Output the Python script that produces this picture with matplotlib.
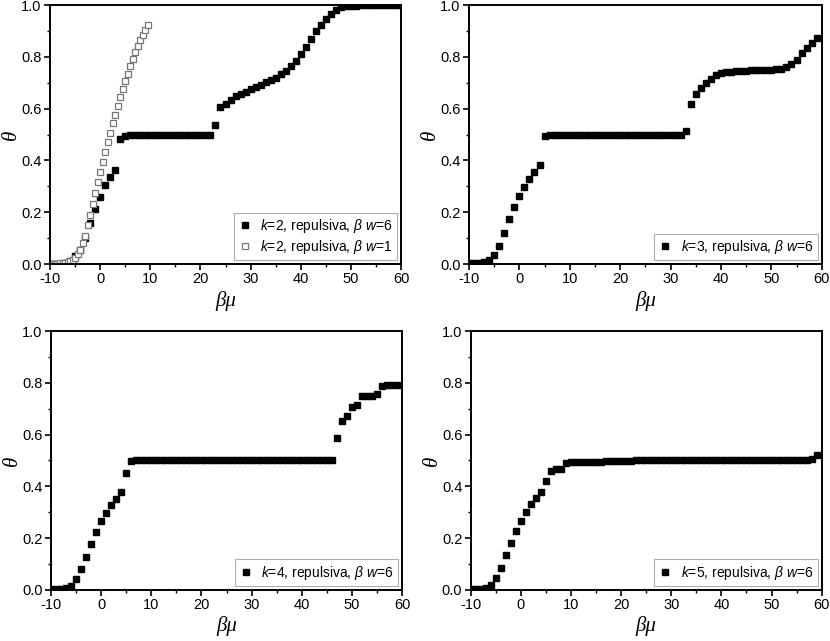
import matplotlib
matplotlib.use('Agg')
import matplotlib.pyplot as plt
import numpy as np

plt.rcParams['font.family'] = ['Liberation Sans', 'DejaVu Sans']
plt.rcParams['axes.unicode_minus'] = False
plt.rcParams['mathtext.fontset'] = 'custom'
plt.rcParams['mathtext.it'] = 'Liberation Sans:italic'
plt.rcParams['mathtext.rm'] = 'Liberation Sans'

# k=2, repulsiva, beta w = 6  (step 1, -10..60)
mu_k2 = list(range(-10, 61))
th_k2 = [0.0, 0.001, 0.002, 0.005, 0.012, 0.03, 0.055, 0.10, 0.16, 0.212,
         0.26, 0.304, 0.336, 0.364, 0.484, 0.495, 0.498, 0.499, 0.5, 0.5,
         0.5, 0.5, 0.5, 0.5, 0.5, 0.5, 0.5, 0.5, 0.5, 0.5,
         0.5, 0.5, 0.5, 0.535, 0.605, 0.618, 0.633, 0.649, 0.655, 0.664,
         0.674, 0.682, 0.691, 0.702, 0.71, 0.72, 0.734, 0.746, 0.764, 0.785,
         0.811, 0.839, 0.869, 0.898, 0.923, 0.945, 0.965, 0.98, 0.991, 0.995,
         0.997, 0.998, 0.999, 0.999, 1.0, 1.0, 1.0, 1.0, 1.0, 1.0, 1.0]

# k=2, repulsiva, beta w = 1  (step 0.5, -10..9.5)
mu_k2w1 = [x / 2 for x in range(-20, 20)]
th_k2w1 = [0.001, 0.001, 0.002, 0.002, 0.003, 0.004, 0.005, 0.008, 0.011, 0.016,
           0.024, 0.038, 0.055, 0.08, 0.11, 0.15, 0.19, 0.232, 0.275, 0.316,
           0.356, 0.395, 0.434, 0.47, 0.507, 0.543, 0.575, 0.61, 0.644, 0.676,
           0.707, 0.735, 0.765, 0.792, 0.817, 0.843, 0.865, 0.886, 0.905, 0.923]

# k=3
mu_k3 = list(range(-10, 60))
th_k3 = [0.003, 0.004, 0.005, 0.008, 0.015, 0.033, 0.07, 0.118, 0.172, 0.22,
         0.264, 0.298, 0.327, 0.356, 0.384, 0.494, 0.498, 0.5, 0.5, 0.5,
         0.5, 0.5, 0.5, 0.5, 0.5, 0.5, 0.5, 0.5, 0.5, 0.5,
         0.5, 0.5, 0.5, 0.5, 0.5, 0.5, 0.5, 0.5, 0.5, 0.5,
         0.5, 0.5, 0.5, 0.515, 0.617, 0.655, 0.681, 0.70, 0.716, 0.73,
         0.737, 0.741, 0.743, 0.745, 0.746, 0.747, 0.748, 0.749, 0.75, 0.75,
         0.75, 0.752, 0.755, 0.76, 0.772, 0.788, 0.816, 0.836, 0.854, 0.871]

# k=4
mu_k4 = list(range(-10, 60))
th_k4 = [0.002, 0.003, 0.005, 0.008, 0.017, 0.041, 0.08, 0.127, 0.179, 0.225,
         0.265, 0.298, 0.328, 0.352, 0.377, 0.45, 0.498, 0.5, 0.5, 0.5,
         0.5, 0.5, 0.5, 0.5, 0.5, 0.5, 0.5, 0.5, 0.5, 0.5,
         0.5, 0.5, 0.5, 0.5, 0.5, 0.5, 0.5, 0.5, 0.5, 0.5,
         0.5, 0.5, 0.5, 0.5, 0.5, 0.5, 0.5, 0.5, 0.5, 0.5,
         0.5, 0.5, 0.5, 0.5, 0.5, 0.5, 0.5, 0.587, 0.652, 0.673,
         0.708, 0.714, 0.75, 0.75, 0.75, 0.757, 0.788, 0.792, 0.792, 0.792]

# k=5
mu_k5 = list(range(-10, 60))
th_k5 = [0.002, 0.003, 0.005, 0.008, 0.019, 0.045, 0.084, 0.134, 0.183, 0.227,
         0.266, 0.30, 0.331, 0.354, 0.377, 0.42, 0.459, 0.467, 0.469, 0.49,
         0.493, 0.494, 0.494, 0.495, 0.495, 0.496, 0.496, 0.497, 0.497, 0.498,
         0.498, 0.499, 0.499, 0.5, 0.5, 0.5, 0.5, 0.5, 0.5, 0.5,
         0.5, 0.5, 0.5, 0.5, 0.5, 0.5, 0.5, 0.5, 0.5, 0.5,
         0.5, 0.5, 0.5, 0.5, 0.5, 0.5, 0.5, 0.5, 0.5, 0.5,
         0.5, 0.5, 0.5, 0.5, 0.5, 0.5, 0.503, 0.503, 0.505, 0.52]

fig = plt.figure(figsize=(8.3, 6.41), dpi=100)
boxes = [(0.0602, 0.5881, 0.423, 0.404), (0.565, 0.5881, 0.425, 0.404),
         (0.0614, 0.0796, 0.423, 0.404), (0.567, 0.0796, 0.423, 0.404)]
axs = [fig.add_axes(b) for b in boxes]

def label(k, w):
    return r'$k$=%d, repulsiva, $\beta$ $w$=%d' % (k, w)

axs[0].plot(mu_k2, th_k2, 's', color='black', ms=5, label=label(2, 6))
axs[0].plot(mu_k2w1, th_k2w1, 's', mfc='white', mec='#777777', mew=0.9, ms=5,
            label=label(2, 1))
axs[1].plot(mu_k3, th_k3, 's', color='black', ms=5, label=label(3, 6))
axs[2].plot(mu_k4, th_k4, 's', color='black', ms=5, label=label(4, 6))
axs[3].plot(mu_k5, th_k5, 's', color='black', ms=5, label=label(5, 6))

for ax in axs:
    ax.set_xlim(-10, 60)
    ax.set_ylim(0, 1.0)
    ax.set_xticks(np.arange(-10, 61, 10))
    ax.set_xticks(np.arange(-5, 60, 10), minor=True)
    ax.set_yticks(np.arange(0, 1.01, 0.2))
    ax.set_yticks(np.arange(0.1, 1.0, 0.2), minor=True)
    ax.set_yticklabels(['0.0', '0.2', '0.4', '0.6', '0.8', '1.0'])
    ax.tick_params(direction='out', length=4, width=1.2, labelsize=10.5, pad=2)
    ax.tick_params(which='minor', direction='out', length=2.5, width=1.0)
    for s in ax.spines.values():
        s.set_linewidth(1.4)
    ax.set_xlabel('βμ', fontsize=15, family='Liberation Serif', style='italic',
                  labelpad=3)
    ax.set_ylabel('θ', fontsize=15, family='Liberation Serif', style='italic')
    ax.yaxis.set_label_coords(-0.082, 0.5)
    leg = ax.legend(loc='lower right', fontsize=10, frameon=True, fancybox=False,
                    edgecolor='#999999', handletextpad=0.6, borderpad=0.3,
                    handlelength=1.0, markerscale=0.75, borderaxespad=0.3,
                    labelspacing=0.2)
    leg.get_frame().set_linewidth(0.8)

fig.savefig('out.png', dpi=100)
